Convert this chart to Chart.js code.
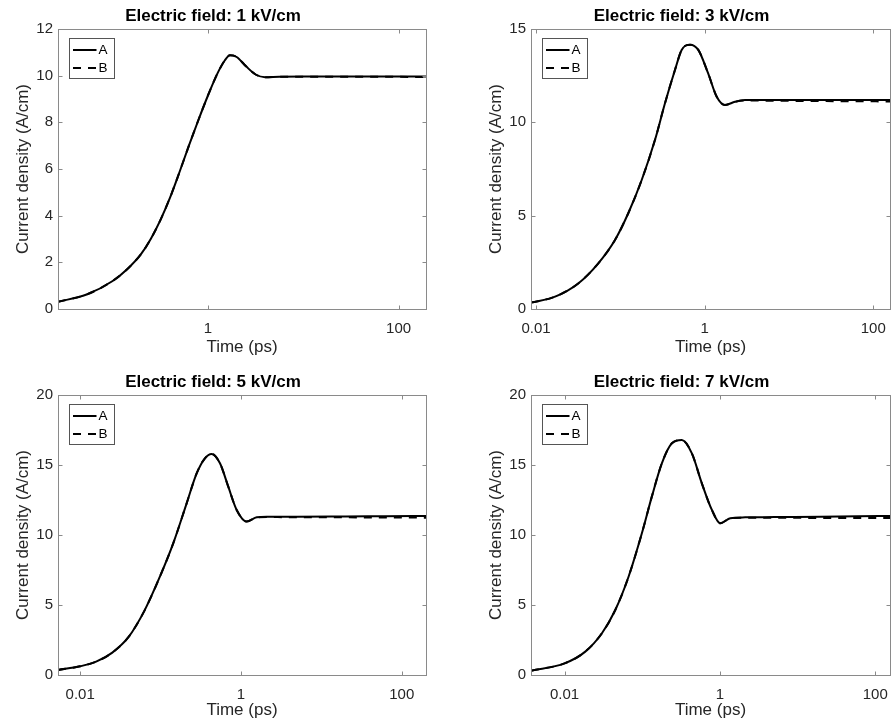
<!DOCTYPE html>
<html>
<head>
<meta charset="utf-8">
<script src="https://cdn.jsdelivr.net/npm/chart.js@4.4.1/dist/chart.umd.min.js"></script>
<style>
  body { margin: 0; background: #fff; }
  #wrap { position: relative; width: 891px; height: 726px; overflow: hidden; }
  canvas { position: absolute; }
</style>
</head>
<body>
<div id="wrap">
  <canvas id="c1" width="445" height="363" style="left:0;top:0"></canvas>
  <canvas id="c2" width="418" height="363" style="left:473px;top:0"></canvas>
  <canvas id="c3" width="445" height="360" style="left:0;top:366px"></canvas>
  <canvas id="c4" width="418" height="360" style="left:473px;top:366px"></canvas>
</div>
<script>
// values (time in ps, current density in A/cm)
const seriesNames = ["A", "B"]
const fieldLabels = ["1 kV/cm", "3 kV/cm", "5 kV/cm", "7 kV/cm"]
const xTickValues = [0.01, 1, 100]

const t1 = [0.0267, 0.0533, 0.1, 0.141, 0.2, 0.251, 0.316, 0.398, 0.501, 0.631, 0.794, 1, 1.259, 1.5, 1.7, 2, 2.51, 3.16, 3.98, 5.6, 10, 30, 100, 194]
const a1 = [0.31, 0.62, 1.2, 1.69, 2.37, 3.0, 3.8, 4.75, 5.85, 7.0, 8.1, 9.15, 10.1, 10.65, 10.87, 10.8, 10.4, 10.05, 9.93, 9.95, 9.96, 9.96, 9.96, 9.96]
const b1 = [0.31, 0.62, 1.2, 1.69, 2.37, 3.0, 3.8, 4.75, 5.85, 7.0, 8.1, 9.15, 10.1, 10.65, 10.87, 10.8, 10.4, 10.05, 9.93, 9.95, 9.95, 9.95, 9.95, 9.94]

const t2 = [0.0087, 0.0168, 0.0316, 0.0547, 0.0863, 0.124, 0.179, 0.257, 0.338, 0.444, 0.533, 0.67, 0.84, 1.1, 1.39, 1.74, 2.29, 3, 10, 50, 158]
const a2 = [0.34, 0.66, 1.37, 2.45, 3.7, 5.13, 6.91, 9.05, 11.02, 12.8, 13.88, 14.16, 13.88, 12.62, 11.37, 10.93, 11.1, 11.19, 11.2, 11.2, 11.19]
const b2 = [0.34, 0.66, 1.37, 2.45, 3.7, 5.13, 6.91, 9.05, 11.02, 12.8, 13.88, 14.16, 13.88, 12.62, 11.37, 10.93, 11.1, 11.17, 11.15, 11.13, 11.12]

const t3 = [0.0053, 0.01, 0.0158, 0.0251, 0.0398, 0.0631, 0.098, 0.1436, 0.211, 0.281, 0.356, 0.431, 0.548, 0.695, 0.884, 1.18, 1.57, 2.09, 5, 20, 60, 200]
const a3 = [0.36, 0.62, 0.95, 1.6, 2.7, 4.6, 7.02, 9.4, 12.26, 14.4, 15.48, 15.79, 15.12, 13.45, 11.79, 10.96, 11.26, 11.3, 11.3, 11.32, 11.34, 11.36]
const b3 = [0.36, 0.62, 0.95, 1.6, 2.7, 4.6, 7.02, 9.4, 12.26, 14.4, 15.48, 15.79, 15.12, 13.45, 11.79, 10.96, 11.26, 11.28, 11.27, 11.26, 11.25, 11.24]

const t4 = [0.0037, 0.01, 0.0185, 0.0303, 0.045, 0.0667, 0.099, 0.133, 0.179, 0.241, 0.324, 0.436, 0.586, 0.789, 1.01, 1.36, 2.12, 5, 20, 60, 155]
const a4 = [0.31, 0.83, 1.67, 2.98, 4.64, 7.02, 10.12, 12.74, 15.12, 16.55, 16.79, 15.83, 13.69, 11.79, 10.84, 11.19, 11.26, 11.28, 11.31, 11.34, 11.36]
const b4 = [0.31, 0.83, 1.67, 2.98, 4.64, 7.02, 10.12, 12.74, 15.12, 16.55, 16.79, 15.83, 13.69, 11.79, 10.84, 11.19, 11.24, 11.23, 11.22, 11.21, 11.21]

const yMax = [12, 15, 20, 20]
const yStep = [2, 5, 5, 5]

Chart.defaults.font.family = "'Liberation Sans', Arial, sans-serif"
Chart.defaults.color = "#262626"

// MATLAB-ish box with inward ticks, plus the boxed legend
const axesBox = {
  id: "axesBox",
  afterDatasetsDraw(chart) {
    const { ctx, chartArea: a, scales } = chart
    const L = a.left + 0.5, R = a.right + 0.5, T = a.top + 0.5, B = a.bottom + 0.5
    ctx.save()
    ctx.strokeStyle = "#8a8a8a"
    ctx.lineWidth = 1
    ctx.strokeRect(L, T, R - L, B - T)
    ctx.beginPath()
    scales.x.ticks.forEach((tk) => {
      const px = Math.round(scales.x.getPixelForValue(tk.value)) + 0.5
      ctx.moveTo(px, B); ctx.lineTo(px, B - 4)
      ctx.moveTo(px, T); ctx.lineTo(px, T + 4)
    })
    scales.y.ticks.forEach((tk) => {
      const py = Math.round(scales.y.getPixelForValue(tk.value)) + 0.5
      ctx.moveTo(L, py); ctx.lineTo(L + 4, py)
      ctx.moveTo(R, py); ctx.lineTo(R - 4, py)
    })
    ctx.stroke()

    // legend
    const bx = a.left + 11.5, by = a.top + 9.5, bw = 45, bh = 40
    ctx.fillStyle = "#fff"
    ctx.fillRect(bx, by, bw, bh)
    ctx.strokeStyle = "#555"
    ctx.strokeRect(bx, by, bw, bh)
    ctx.font = "13.5px 'Liberation Sans', Arial, sans-serif"
    ctx.textBaseline = "middle"
    chart.data.datasets.forEach((ds, i) => {
      const yy = by + 11.5 + i * 18
      ctx.strokeStyle = ds.borderColor
      ctx.lineWidth = ds.borderWidth
      ctx.setLineDash(ds.borderDash || [])
      ctx.beginPath()
      ctx.moveTo(bx + 3.5, yy); ctx.lineTo(bx + 27, yy)
      ctx.stroke()
      ctx.setLineDash([])
      ctx.fillStyle = "#000"
      ctx.fillText(ds.label, bx + 29, yy + 0.5)
    })
    ctx.restore()
  },
}

function makePanel(id, idx, t, a, b, xHeight, rightPad) {
  const pts = (vals) => t.map((v, i) => ({ x: v, y: vals[i] }))
  new Chart(document.getElementById(id), {
    type: "line",
    data: {
      datasets: [
        { label: seriesNames[0], data: pts(a), borderColor: "#000", borderWidth: 2, pointRadius: 0, cubicInterpolationMode: "monotone" },
        { label: seriesNames[1], data: pts(b), borderColor: "#000", borderWidth: 2, borderDash: [8, 7], pointRadius: 0, cubicInterpolationMode: "monotone" },
      ],
    },
    options: {
      responsive: false,
      animation: false,
      events: [],
      layout: { padding: { left: 0, right: rightPad, top: 0, bottom: 0 } },
      plugins: {
        legend: { display: false },
        tooltip: { enabled: false },
        title: {
          display: true,
          text: "Electric field: " + fieldLabels[idx],
          color: "#000",
          font: { size: 17, weight: "bold" },
          padding: { top: 6.3, bottom: 2.3 },
        },
      },
      scales: {
        x: {
          type: "logarithmic",
          min: t[0],
          max: t[t.length - 1],
          afterBuildTicks: (s) => {
            s.ticks = xTickValues.filter((v) => v >= s.min && v <= s.max).map((v) => ({ value: v }))
          },
          afterFit: (s) => {
            s.height = xHeight
            s.paddingLeft = 0
            s.paddingRight = 0
          },
          grid: { display: false, drawTicks: false },
          border: { display: false },
          ticks: { font: { size: 15 }, padding: 11, maxRotation: 0, callback: (v) => String(v) },
          title: { display: true, text: "Time (ps)", font: { size: 17 }, padding: { top: 0, bottom: 5 } },
        },
        y: {
          min: 0,
          max: yMax[idx],
          afterFit: (s) => {
            s.width = 58
            s.paddingTop = 0
            s.paddingBottom = 0
          },
          grid: { display: false, drawTicks: false },
          border: { display: false },
          ticks: { font: { size: 15 }, padding: 5, stepSize: yStep[idx] },
          title: { display: true, text: "Current density (A/cm)", font: { size: 17 }, padding: { top: 13.3, bottom: 0 } },
        },
      },
    },
    plugins: [axesBox],
  })
}

makePanel("c1", 0, t1, a1, b1, 54, 19)
makePanel("c2", 1, t2, a2, b2, 54, 1)
makePanel("c3", 2, t3, a3, b3, 51, 19)
makePanel("c4", 3, t4, a4, b4, 51, 1)
</script>
</body>
</html>
